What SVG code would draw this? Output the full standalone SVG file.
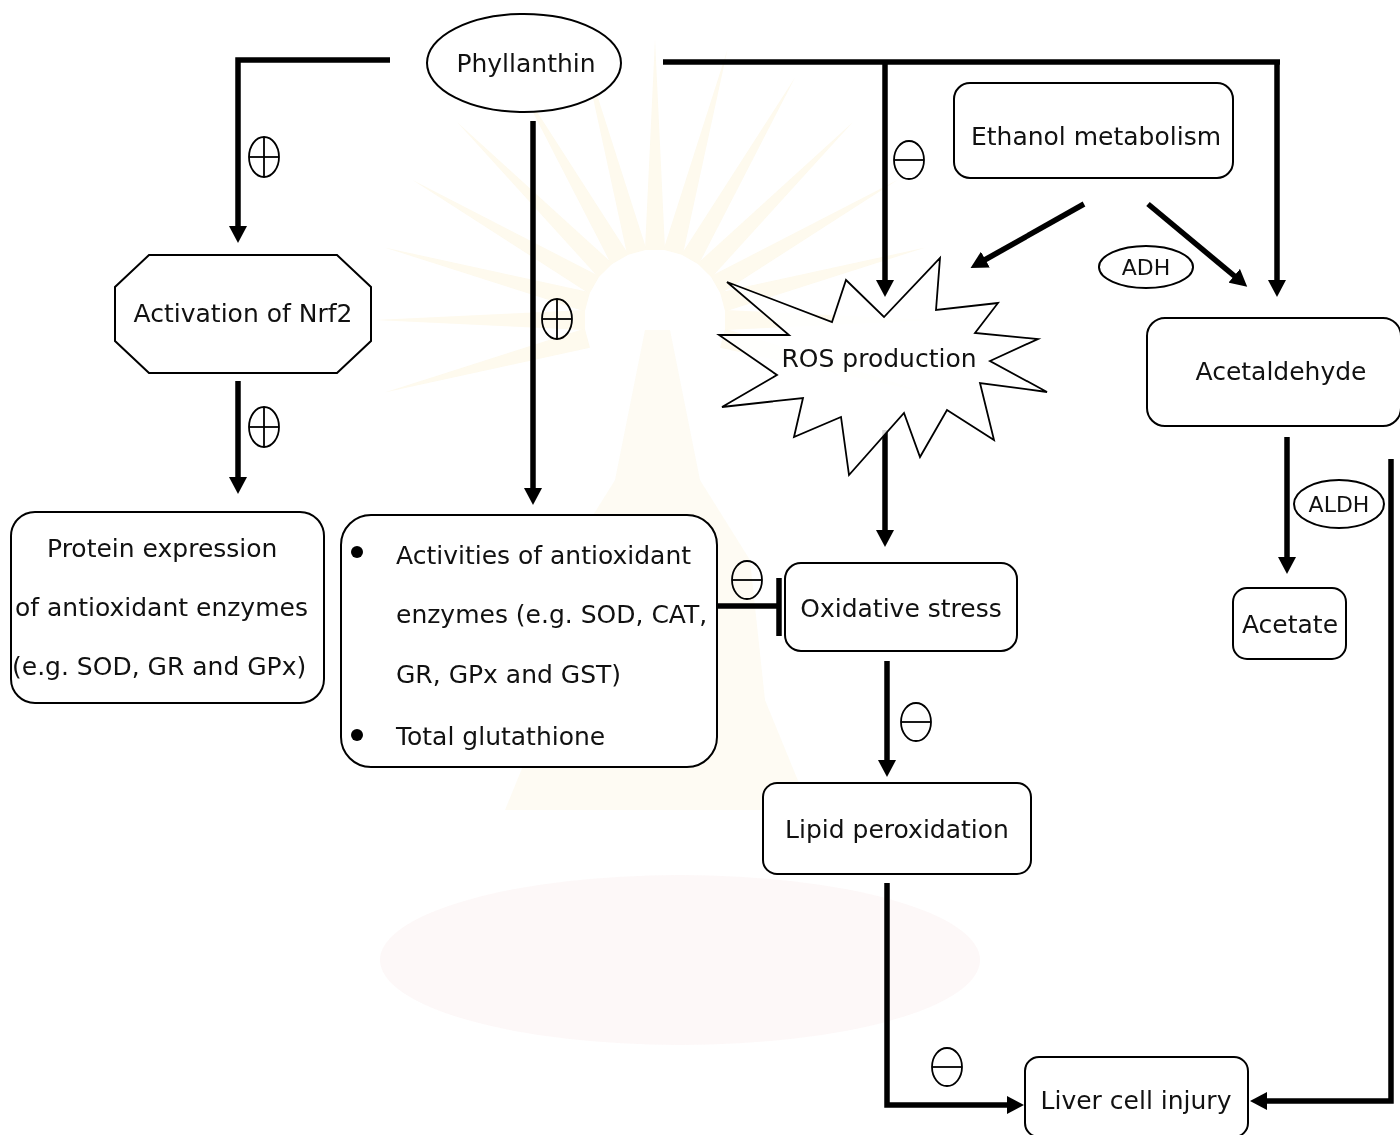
<svg xmlns="http://www.w3.org/2000/svg" xmlns:xlink="http://www.w3.org/1999/xlink" width="1400" height="1135" viewBox="0 0 1400 1135">
<style>
  text { font-family: "DejaVu Sans", "Liberation Sans", sans-serif; font-size: 25px; fill: #111; }
  .small { font-size: 22px; }
  .box { fill: #fff; stroke: #000; stroke-width: 2; }
  .star { fill: #fff; fill-opacity: 0.85; stroke: #000; stroke-width: 1.8; }
  .conn { fill: none; stroke: #000; stroke-width: 5.5; }
  .arrow { marker-end: url(#head); }
  .sym { fill: none; stroke: #000; stroke-width: 1.8; }
  .wm-ray { fill: #fcf4dc; }
</style>
<defs>
  <marker id="head" markerUnits="userSpaceOnUse" markerWidth="18" markerHeight="18" viewBox="0 0 18 18" refX="5" refY="9" orient="auto">
    <path d="M0,0 L17,9 L0,18 Z" fill="#000"/>
  </marker>
  <g id="plus">
    <ellipse cx="0" cy="0" rx="15" ry="20" class="sym"/>
    <line x1="-15" y1="0" x2="15" y2="0" class="sym"/>
    <line x1="0" y1="-20" x2="0" y2="20" class="sym"/>
  </g>
  <g id="minus">
    <ellipse cx="0" cy="0" rx="15" ry="19" class="sym"/>
    <line x1="-15" y1="0" x2="15" y2="0" class="sym"/>
  </g>
</defs>
<rect width="1400" height="1135" fill="#fff"/>

<!-- faint background watermark -->
<g id="watermark" opacity="0.5">
  <g transform="translate(655,320)">
    <polygon class="wm-ray" points="-10,-70 0,-280 10,-70"/>
    <polygon class="wm-ray" points="-10,-70 0,-280 10,-70" transform="rotate(15)"/>
    <polygon class="wm-ray" points="-10,-70 0,-280 10,-70" transform="rotate(30)"/>
    <polygon class="wm-ray" points="-10,-70 0,-280 10,-70" transform="rotate(45)"/>
    <polygon class="wm-ray" points="-10,-70 0,-280 10,-70" transform="rotate(60)"/>
    <polygon class="wm-ray" points="-10,-70 0,-280 10,-70" transform="rotate(75)"/>
    <polygon class="wm-ray" points="-10,-70 0,-280 10,-70" transform="rotate(90)"/>
    <polygon class="wm-ray" points="-10,-70 0,-280 10,-70" transform="rotate(105)"/>
    <polygon class="wm-ray" points="-10,-70 0,-280 10,-70" transform="rotate(-15)"/>
    <polygon class="wm-ray" points="-10,-70 0,-280 10,-70" transform="rotate(-30)"/>
    <polygon class="wm-ray" points="-10,-70 0,-280 10,-70" transform="rotate(-45)"/>
    <polygon class="wm-ray" points="-10,-70 0,-280 10,-70" transform="rotate(-60)"/>
    <polygon class="wm-ray" points="-10,-70 0,-280 10,-70" transform="rotate(-75)"/>
    <polygon class="wm-ray" points="-10,-70 0,-280 10,-70" transform="rotate(-90)"/>
    <polygon class="wm-ray" points="-10,-70 0,-280 10,-70" transform="rotate(-105)"/>
  </g>
  <path d="M645,330 L670,330 L700,480 L750,560 L765,700 L810,810 L505,810 L550,700 L565,560 L615,480 Z" fill="#faf1d6" opacity="0.6"/>
  <ellipse cx="680" cy="960" rx="300" ry="85" fill="#f9e6e6" opacity="0.6"/>
</g>

<!-- connectors -->
<g id="connectors">
  <polyline class="conn arrow" points="390,60 238,60 238,231"/>
  <line class="conn arrow" x1="238" y1="381" x2="238" y2="482"/>
  <line class="conn arrow" x1="533" y1="121" x2="533" y2="493"/>
  <line class="conn" x1="663" y1="62" x2="1280" y2="62"/>
  <line class="conn arrow" x1="885" y1="62" x2="885" y2="285"/>
  <line class="conn arrow" x1="1277" y1="62" x2="1277" y2="285"/>
  <line class="conn arrow" x1="1084" y1="204" x2="981" y2="262"/>
  <line class="conn arrow" x1="1148" y1="204" x2="1238" y2="279"/>
  <line class="conn arrow" x1="885" y1="430" x2="885" y2="535"/>
  <line class="conn" x1="718" y1="606" x2="778" y2="606"/>
  <line class="conn" x1="779" y1="578" x2="779" y2="636"/>
  <line class="conn arrow" x1="887" y1="661" x2="887" y2="765"/>
  <polyline class="conn arrow" points="887,883 887,1105 1012,1105"/>
  <line class="conn arrow" x1="1287" y1="437" x2="1287" y2="562"/>
  <polyline class="conn arrow" points="1391,459 1391,1101 1262,1101"/>

  <use xlink:href="#plus" x="264" y="157"/>
  <use xlink:href="#plus" x="264" y="427"/>
  <use xlink:href="#plus" x="557" y="319"/>
  <use xlink:href="#minus" x="909" y="160"/>
  <use xlink:href="#minus" x="747" y="580"/>
  <use xlink:href="#minus" x="916" y="722"/>
  <use xlink:href="#minus" x="947" y="1067"/>
</g>

<g id="phyllanthin">
  <ellipse class="box" cx="524" cy="63" rx="97" ry="49"/>
  <text x="526" y="72" text-anchor="middle">Phyllanthin</text>
</g>

<g id="nrf2">
  <polygon class="box" points="149,255 337,255 371,287 371,341 337,373 149,373 115,341 115,287"/>
  <text x="243" y="322" text-anchor="middle">Activation of Nrf2</text>
</g>

<g id="protein">
  <rect class="box" x="11" y="512" width="313" height="191" rx="24"/>
  <text x="47" y="557">Protein expression</text>
  <text x="15" y="616">of antioxidant enzymes</text>
  <text x="12" y="675">(e.g. SOD, GR and GPx)</text>
</g>

<g id="activities">
  <rect class="box" x="341" y="515" width="376" height="252" rx="30"/>
  <circle cx="357" cy="552" r="6" fill="#000"/>
  <circle cx="357" cy="735" r="6" fill="#000"/>
  <text x="396" y="564">Activities of antioxidant</text>
  <text x="396" y="623">enzymes (e.g. SOD, CAT,</text>
  <text x="396" y="683">GR, GPx and GST)</text>
  <text x="396" y="745">Total glutathione</text>
</g>

<g id="ethanol">
  <rect class="box" x="954" y="83" width="279" height="95" rx="16"/>
  <text x="1096" y="145" text-anchor="middle">Ethanol metabolism</text>
</g>

<g id="adh">
  <ellipse class="box" cx="1146" cy="267" rx="47" ry="21"/>
  <text class="small" x="1146" y="275" text-anchor="middle">ADH</text>
</g>

<g id="ros">
  <polygon class="star" points="940,258 936,310 998,303 975,333 1038,339 990,361 1047,392 980,383 994,440 947,410 920,457 904,413 849,475 841,417 794,437 803,398 722,407 777,375 719,335 789,335 727,282 832,322 846,280 884,317"/>
  <text x="879" y="367" text-anchor="middle">ROS production</text>
</g>

<g id="acetaldehyde">
  <rect class="box" x="1147" y="318" width="254" height="108" rx="18"/>
  <text x="1281" y="380" text-anchor="middle">Acetaldehyde</text>
</g>

<g id="aldh">
  <ellipse class="box" cx="1339" cy="504" rx="45" ry="24"/>
  <text class="small" x="1339" y="512" text-anchor="middle">ALDH</text>
</g>

<g id="acetate">
  <rect class="box" x="1233" y="588" width="113" height="71" rx="14"/>
  <text x="1290" y="633" text-anchor="middle">Acetate</text>
</g>

<g id="oxidative">
  <rect class="box" x="785" y="563" width="232" height="88" rx="16"/>
  <text x="901" y="617" text-anchor="middle">Oxidative stress</text>
</g>

<g id="lipid">
  <rect class="box" x="763" y="783" width="268" height="91" rx="14"/>
  <text x="897" y="838" text-anchor="middle">Lipid peroxidation</text>
</g>

<g id="liver">
  <rect class="box" x="1025" y="1057" width="223" height="80" rx="14"/>
  <text x="1136" y="1109" text-anchor="middle">Liver cell injury</text>
</g>
</svg>
